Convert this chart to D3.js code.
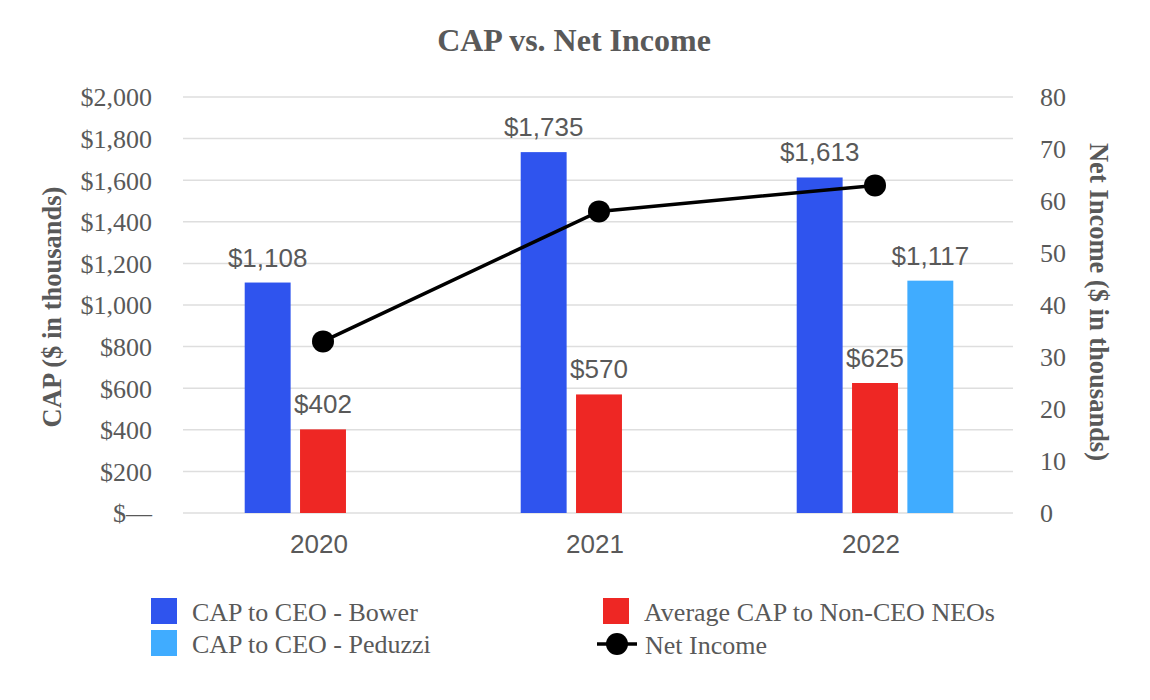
<!DOCTYPE html>
<html>
<head>
<meta charset="utf-8">
<script src="https://cdn.jsdelivr.net/npm/d3@7"></script>
<style>
  body { margin: 0; background: #fff; }
  svg { display: block; }
</style>
</head>
<body>
<div id="chart"></div>
<script>
const years = ["2020", "2021", "2022"];
const bowerCap = [1108, 1735, 1613];
const nonCeoCap = [402, 570, 625];
const peduzziCap = [null, null, 1117];
const netIncome = [33, 58, 63];
const leftTicks = [0, 200, 400, 600, 800, 1000, 1200, 1400, 1600, 1800, 2000];
const rightTicks = [0, 10, 20, 30, 40, 50, 60, 70, 80];

const series = [
  { key: "bower", name: "CAP to CEO - Bower", values: bowerCap, color: "#2f54ee" },
  { key: "noneo", name: "Average CAP to Non-CEO NEOs", values: nonCeoCap, color: "#ee2724" },
  { key: "peduzzi", name: "CAP to CEO - Peduzzi", values: peduzziCap, color: "#40acff" }
];

const width = 1150, height = 700;
const textGrey = "#595959";
const serif = "'Liberation Serif', 'Times New Roman', serif";
const sans = "'Liberation Sans', Arial, sans-serif";

const plot = { left: 185, right: 1013, top: 97, bottom: 513 };

const svg = d3.select("#chart").append("svg")
  .attr("width", width)
  .attr("height", height);

const x0 = d3.scaleBand().domain(years).range([plot.left, plot.right]);
const x1 = d3.scaleBand().domain(series.map(s => s.key))
  .range([-83, 83]).paddingInner(0.17).paddingOuter(0.085);
const yLeft = d3.scaleLinear().domain([0, 2000]).range([plot.bottom, plot.top]);
const yRight = d3.scaleLinear().domain([0, 80]).range([plot.bottom, plot.top]);

const center = d => x0(d) + x0.bandwidth() / 2;

// gridlines
svg.append("g")
  .selectAll("line")
  .data(leftTicks)
  .enter().append("line")
  .attr("x1", plot.left - 2)
  .attr("x2", plot.right)
  .attr("y1", d => yLeft(d))
  .attr("y2", d => yLeft(d))
  .attr("stroke", "#dedede")
  .attr("stroke-width", 1.5);

// left axis
const leftAxis = svg.append("g")
  .attr("transform", `translate(${plot.left - 33},0)`)
  .call(d3.axisLeft(yLeft).tickValues(leftTicks).tickSize(0)
    .tickFormat(d => d === 0 ? "$\u2014" : "$" + d3.format(",")(d)));
leftAxis.select(".domain").remove();
leftAxis.selectAll("text")
  .attr("x", 0)
  .attr("dy", "0.34em")
  .attr("fill", textGrey)
  .style("font-family", serif)
  .style("font-size", "26px");

// right axis
const rightAxis = svg.append("g")
  .attr("transform", `translate(${plot.right + 27},0)`)
  .call(d3.axisRight(yRight).tickValues(rightTicks).tickSize(0));
rightAxis.select(".domain").remove();
rightAxis.selectAll("text")
  .attr("x", 0)
  .attr("dy", "0.34em")
  .attr("fill", textGrey)
  .style("font-family", serif)
  .style("font-size", "26px");

// category labels
const xAxis = svg.append("g")
  .attr("transform", `translate(0,${plot.bottom})`)
  .call(d3.axisBottom(x0).tickSize(0));
xAxis.select(".domain").remove();
xAxis.selectAll("text")
  .attr("y", 22)
  .attr("dy", "0.71em")
  .attr("dx", -4)
  .attr("fill", textGrey)
  .style("font-family", sans)
  .style("font-size", "26px");

// bars
const barData = [];
series.forEach(s => {
  years.forEach((y, i) => {
    if (s.values[i] != null) barData.push({ key: s.key, year: y, value: s.values[i], color: s.color });
  });
});

svg.append("g")
  .selectAll("rect")
  .data(barData)
  .enter().append("rect")
  .attr("x", d => center(d.year) + x1(d.key))
  .attr("y", d => yLeft(d.value))
  .attr("width", x1.bandwidth())
  .attr("height", d => yLeft(0) - yLeft(d.value))
  .attr("fill", d => d.color);

// bar value labels
svg.append("g")
  .selectAll("text")
  .data(barData)
  .enter().append("text")
  .attr("x", d => center(d.year) + x1(d.key) + x1.bandwidth() / 2)
  .attr("y", d => yLeft(d.value) - 16)
  .attr("text-anchor", "middle")
  .attr("fill", textGrey)
  .style("font-family", sans)
  .style("font-size", "26px")
  .text(d => "$" + d3.format(",")(d.value));

// net income line
const line = d3.line()
  .x((d, i) => center(years[i]))
  .y(d => yRight(d));

svg.append("path")
  .datum(netIncome)
  .attr("d", line)
  .attr("fill", "none")
  .attr("stroke", "#000")
  .attr("stroke-width", 3.5);

svg.append("g")
  .selectAll("circle")
  .data(netIncome)
  .enter().append("circle")
  .attr("cx", (d, i) => center(years[i]))
  .attr("cy", d => yRight(d))
  .attr("r", 11)
  .attr("fill", "#000");

// title
svg.append("text")
  .attr("x", 574)
  .attr("y", 51)
  .attr("text-anchor", "middle")
  .attr("fill", textGrey)
  .style("font-family", serif)
  .style("font-weight", "bold")
  .style("font-size", "32px")
  .text("CAP vs. Net Income");

// axis titles
svg.append("text")
  .attr("transform", "translate(61,307) rotate(-90)")
  .attr("text-anchor", "middle")
  .attr("fill", textGrey)
  .style("font-family", serif)
  .style("font-weight", "bold")
  .style("font-size", "26.5px")
  .text("CAP ($ in thousands)");

svg.append("text")
  .attr("transform", "translate(1090,302) rotate(90)")
  .attr("text-anchor", "middle")
  .attr("fill", textGrey)
  .style("font-family", serif)
  .style("font-weight", "bold")
  .style("font-size", "26.5px")
  .text("Net Income ($ in thousands)");

// legend
const legendItems = [
  { name: series[0].name, color: series[0].color, type: "rect", x: 151, y: 611 },
  { name: series[1].name, color: series[1].color, type: "rect", x: 603, y: 611 },
  { name: series[2].name, color: series[2].color, type: "rect", x: 151, y: 643 },
  { name: "Net Income", color: "#000", type: "line", x: 597, y: 644 }
];

const legend = svg.append("g");
legendItems.forEach(item => {
  const g = legend.append("g").attr("transform", `translate(${item.x},${item.y})`);
  if (item.type === "rect") {
    g.append("rect")
      .attr("x", 0)
      .attr("y", -13)
      .attr("width", 26)
      .attr("height", 26)
      .attr("fill", item.color);
  } else {
    g.append("line")
      .attr("x1", 0).attr("x2", 40)
      .attr("stroke", item.color)
      .attr("stroke-width", 3.5);
    g.append("circle")
      .attr("cx", 20)
      .attr("r", 11)
      .attr("fill", item.color);
  }
  g.append("text")
    .attr("x", item.type === "rect" ? 41 : 48)
    .attr("y", 10)
    .attr("fill", textGrey)
    .style("font-family", serif)
    .style("font-size", "26px")
    .text(item.name);
});
</script>
</body>
</html>
